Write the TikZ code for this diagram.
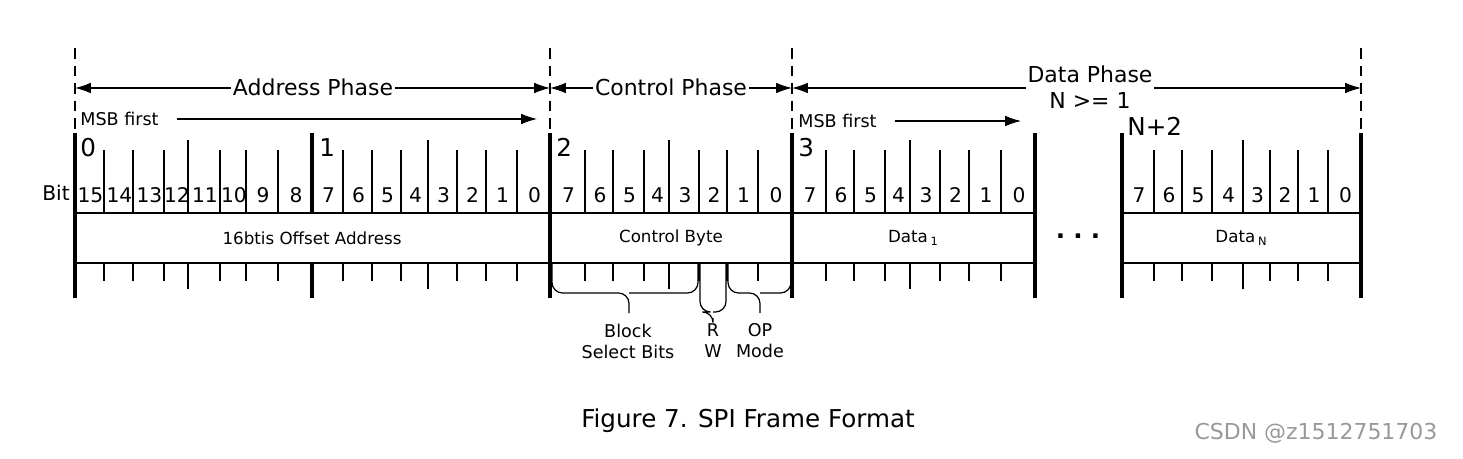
\documentclass[tikz,border=0pt]{standalone}
\usepackage{fontspec}
\setmainfont{DejaVu Sans}
\usetikzlibrary{arrows.meta}

\tikzset{
  thin tick/.style={line width=0.6pt},
  nibble tick/.style={line width=1.3pt},
  byte edge/.style={line width=2.2pt},
  phase edge/.style={dashed,line width=0.6pt,dash pattern=on 6pt off 4pt},
  phase arrow/.style={{Latex[length=9pt,width=6pt]}-{Latex[length=9pt,width=6pt]},line width=0.6pt},
  msb arrow/.style={-{Latex[length=9pt,width=6pt]},line width=0.6pt},
  brace/.style={line width=0.7pt,rounded corners=6pt},
  bitnum/.style={font=\fontsize{11.5}{11.5}\selectfont,inner sep=0pt},
  bytenum/.style={font=\fontsize{14}{14}\selectfont,inner sep=0pt,anchor=north west},
  fieldname/.style={font=\fontsize{9.5}{10}\selectfont,inner sep=0pt},
  phasename/.style={font=\fontsize{12.5}{13}\selectfont,fill=white,inner xsep=1pt},
  notename/.style={font=\fontsize{10}{12}\selectfont,inner sep=0pt,align=center},
}

\begin{document}
\begin{tikzpicture}[x=0.02cm,y=-0.02cm]
\useasboundingbox (0,0) rectangle (1463,459);

% phase borders
\foreach \x in {75,550,792,1361}
  \draw[phase edge] (\x,48) -- (\x,133);

% field boxes
\draw[thin tick] (75,213) -- (1035,213) (75,263) -- (1035,263);
\draw[thin tick] (1122,213) -- (1361,213) (1122,263) -- (1361,263);

% bit ticks
\foreach \x in {104,133,164,220,246,278,343,372,401,457,486,517,585,613,644,699,727,758,826,854,885,940,969,1001,1154,1182,1212,1270,1298,1328}
  \draw[thin tick] (\x,150) -- (\x,213) (\x,263) -- (\x,281);
\foreach \x in {188,428,669,910,1243}
  \draw[nibble tick] (\x,140) -- (\x,213) (\x,263) -- (\x,289);
\foreach \x in {75,550,792,1035,1122,1361}
  \draw[byte edge] (\x,133) -- (\x,298);
\draw[byte edge] (312,133) -- (312,213) (312,263) -- (312,298);

% bit numbers
\node[bitnum] (bitlbl) at (56,193) {Bit};
\foreach \a/\b/\t in {75/104/15,104/133/14,133/164/13,164/188/12,188/220/11,220/246/10,246/278/9,278/312/8,
  312/343/7,343/372/6,372/401/5,401/428/4,428/457/3,457/486/2,486/517/1,517/550/0,
  550/585/7,585/613/6,613/644/5,644/669/4,669/699/3,699/727/2,727/758/1,758/792/0,
  792/826/7,826/854/6,854/885/5,885/910/4,910/940/3,940/969/2,969/1001/1,1001/1035/0,
  1122/1154/7,1154/1182/6,1182/1212/5,1212/1243/4,1243/1270/3,1270/1298/2,1298/1328/1,1328/1361/0}
  \node[bitnum] at ({(\a+\b)/2+1},195) {\t};

% byte numbers
\node[bytenum] (b0) at (80,138) {0};
\node[bytenum] (b1) at (319,138) {1};
\node[bytenum] (b2) at (556,138) {2};
\node[bytenum] (b3) at (798,138) {3};
\node[bytenum] (bn) at (1127,117) {N+2};

% field names
\node[fieldname] (addr) at (312,238) {16btis Offset Address};
\node[fieldname] (ctrl) at (671,238) {Control Byte};
\node[fieldname] (data1) at (913,238) {Data\,{\fontsize{6.5}{6.5}\selectfont\raisebox{-2pt}{1}}};
\node[fieldname] (datan) at (1241,238) {Data\,{\fontsize{6.5}{6.5}\selectfont\raisebox{-2pt}{N}}};
\node[font=\fontsize{14}{14}\selectfont\bfseries,inner sep=0pt] (dots) at (1078,236) {.\,\,.\,\,.};

% phases
\coordinate (pa) at (75,88);
\coordinate (pc) at (550,88);
\coordinate (pd) at (792,88);
\coordinate (pe) at (1361,88);
\draw[phase arrow] (pa) -- (pc);
\draw[phase arrow] (pc) -- (pd);
\draw[phase arrow] (pd) -- (pe);
\node[phasename] (addrphase) at (313,87) {Address Phase};
\node[phasename] (ctrlphase) at (671,87) {Control Phase};
\node[phasename,align=center,inner ysep=2pt] (dataphase) at (1090,87) {Data Phase\\[2pt]N >= 1};

% bit order
\node[notename,anchor=west] (msba) at (80,119) {MSB first};
\coordinate (msbaend) at (537,119);
\draw[msb arrow] (msba.east) ++(10pt,0) -- (msbaend);
\node[notename,anchor=west] (msbd) at (798,121) {MSB first};
\coordinate (msbdend) at (1021,121);
\draw[msb arrow] (msbd.east) ++(10pt,0) -- (msbdend);

% control byte groups
\draw[brace] (552,263) -- (552,293) -- (629,293) -- (629,313);
\draw[brace] (698,263) -- (698,293) -- (629,293);
\draw[brace] (700,263) -- (700,312) -- (713,312) -- (713,318);
\draw[brace] (726,263) -- (726,312) -- (713,312);
\draw[brace] (728,263) -- (728,293) -- (760,293) -- (760,313);
\draw[brace] (791,263) -- (791,293) -- (760,293);
\node[notename] (bsel) at (628,341) {Block\\Select Bits};
\node[notename] (rw) at (713,341) {R\\W};
\node[notename] (opm) at (760,341) {OP\\Mode};

% caption
\node[font=\fontsize{14}{14}\selectfont,inner sep=0pt] (caption) at (748,421) {Figure 7. SPI Frame Format};
\node[font=\fontsize{12.5}{12.5}\selectfont,text=black!40,inner sep=0pt] (mark) at (1316,433) {CSDN @z1512751703};
\end{tikzpicture}
\end{document}
